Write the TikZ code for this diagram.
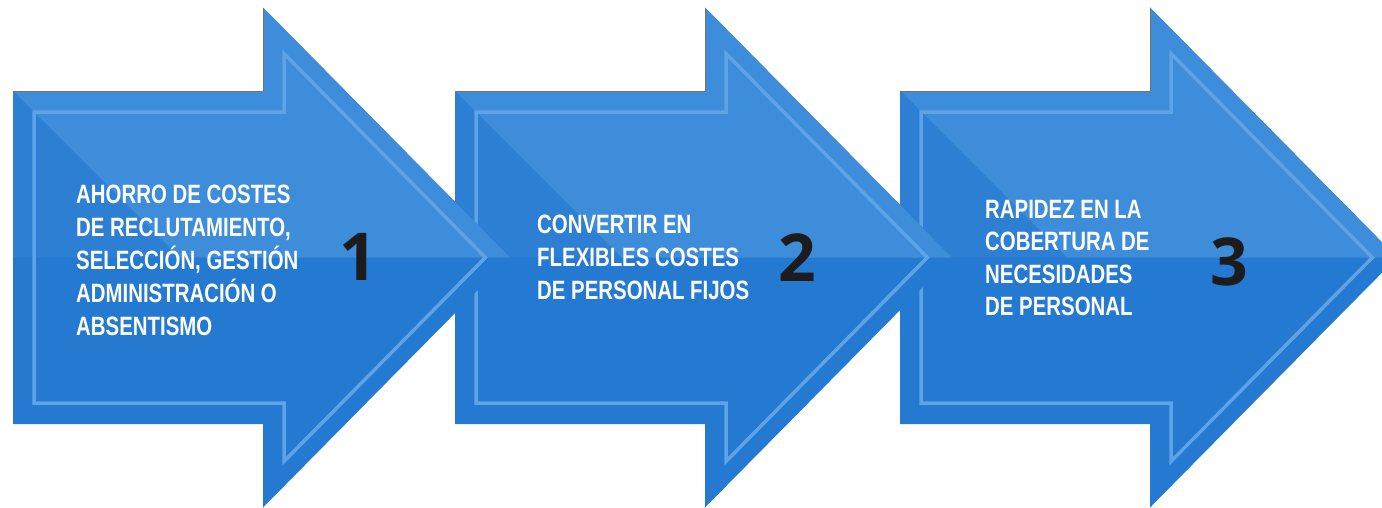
\documentclass[tikz,border=0pt]{standalone}
\usepackage{fontspec}
\setmainfont{Liberation Sans}
\newfontfamily\condfont[FakeStretch=0.77]{Liberation Sans}
\newfontfamily\numfont{Open Sans}
\definecolor{adark}{HTML}{2479D1}
\definecolor{amid}{HTML}{2D7FD4}
\definecolor{alight}{HTML}{3E8DDA}
\definecolor{aline}{HTML}{5EA3E6}
\definecolor{numcol}{HTML}{1C1C1C}
\tikzset{
  lightline/.style={draw=aline, line width=3.5, line join=miter},
  edgeline/.style={draw=black!55, line width=0.8},
  bodytext/.style={font=\condfont\bfseries\fontsize{26.5}{33}\selectfont, text=white, align=left, inner sep=0, anchor=north west},
  numtext/.style={font=\numfont\bfseries\fontsize{66}{66}\selectfont, text=numcol, inner sep=0, anchor=center}
}
\newcommand\bigarrow[1]{%
  \begin{scope}[shift={(#1,0)}]
    \fill[adark] (0,91)--(250,91)--(250,7.5)--(497,257.5)--(250,507.5)--(250,424)--(0,424)--cycle;
    \fill[alight] (0,91)--(250,91)--(250,7.5)--(497,257.5)--(166.5,257.5)--cycle;
    \fill[amid] (0,91)--(166.5,257.5)--(0,257.5)--cycle;
    \draw[lightline] (21,112)--(271,112)--(271,53.6)--(472.4,257.5)--(271,461.4)--(271,403)--(21,403)--cycle;
    \draw[edgeline] (0,91)--(250,91)--(250,7.5);
  \end{scope}}
\begin{document}
\begin{tikzpicture}[x=1pt,y=-1pt]
  \useasboundingbox (0,0) rectangle (1382,507);
  \clip (0,0) rectangle (1382,507);
  \bigarrow{900}
  \bigarrow{455}
  \bigarrow{13}
  \node[bodytext] (t1) at (76,185) {AHORRO DE COSTES\\DE RECLUTAMIENTO,\\SELECCIÓN, GESTIÓN\\ADMINISTRACIÓN O\\ABSENTISMO};
  \node[bodytext] (t2) at (537,215) {CONVERTIR EN\\FLEXIBLES COSTES\\DE PERSONAL FIJOS};
  \node[bodytext, font=\condfont\bfseries\fontsize{26.5}{32.5}\selectfont] (t3) at (985,200) {RAPIDEZ EN LA\\COBERTURA DE\\NECESIDADES\\DE PERSONAL};
  \node[numtext] (n1) at (358,256.5) {1};
  \node[numtext] (n2) at (797,257.5) {2};
  \node[numtext] (n3) at (1229,262) {3};
\end{tikzpicture}
\end{document}
